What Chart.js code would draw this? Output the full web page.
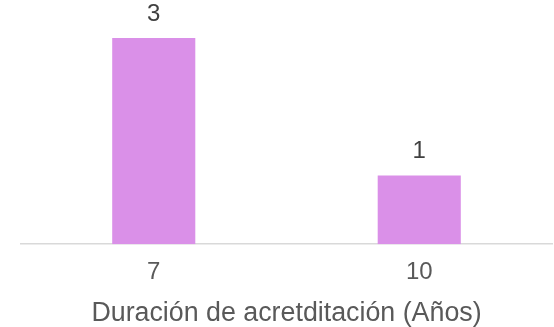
<!DOCTYPE html>
<html>
<head>
<meta charset="utf-8">
<script src="https://cdn.jsdelivr.net/npm/chart.js@4"></script>
<style>
  html, body { margin: 0; padding: 0; background: #ffffff; }
  #wrap { width: 554px; height: 327px; position: relative; }
</style>
</head>
<body>
<div id="wrap"><canvas id="myChart"></canvas></div>
<script>
// Chart data
const categories = ["7", "10"];
const counts = [3, 1];
const axisTitle = "Duración de acretditación (Años)";

const textColor = "#595959";
const fontFamily = "'Liberation Sans', Arial, sans-serif";

// Draw the value above each bar
const valueLabels = {
  id: "valueLabels",
  afterDatasetsDraw(chart) {
    const ctx = chart.ctx;
    const meta = chart.getDatasetMeta(0);
    ctx.save();
    ctx.fillStyle = "#404040";
    ctx.font = `24px ${fontFamily}`;
    ctx.textAlign = "center";
    ctx.textBaseline = "alphabetic";
    meta.data.forEach((bar, i) => {
      ctx.fillText(String(counts[i]), bar.x, bar.y - 17);
    });
    ctx.restore();
  },
};

new Chart("myChart", {
  type: "bar",
  data: {
    labels: categories,
    datasets: [
      {
        data: counts,
        backgroundColor: "#DA90E8",
        borderWidth: 0,
        categoryPercentage: 1,
        barPercentage: 0.313,
      },
    ],
  },
  options: {
    responsive: true,
    maintainAspectRatio: false,
    animation: false,
    layout: { padding: { top: 38, left: 21, right: 2, bottom: 0 } },
    plugins: {
      legend: { display: false },
      tooltip: { enabled: false },
    },
    scales: {
      x: {
        grid: { display: false, drawTicks: false },
        border: { display: true, color: "#d9d9d9", width: 1.5 },
        ticks: {
          color: textColor,
          padding: 16,
          font: { size: 24, family: fontFamily, lineHeight: 1 },
        },
        title: {
          display: true,
          text: axisTitle,
          color: textColor,
          padding: { top: 0, bottom: 0 },
          font: { size: 26.8, family: fontFamily, lineHeight: 1 },
        },
      },
      y: {
        display: false,
        min: 0,
        max: 3,
      },
    },
  },
  plugins: [valueLabels],
});
</script>
</body>
</html>
